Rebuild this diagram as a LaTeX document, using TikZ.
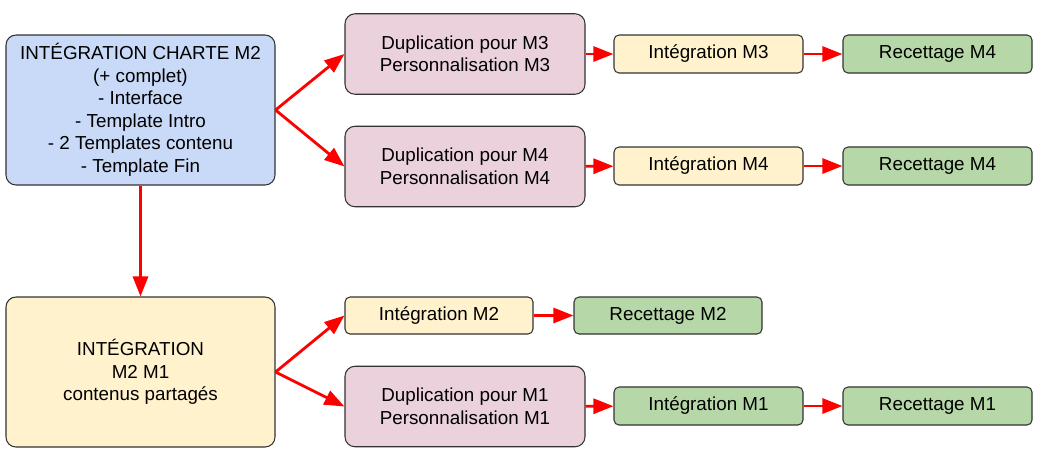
\documentclass[tikz,border=0pt]{standalone}
\usepackage{fontspec}
\setmainfont{Liberation Sans}
\usepackage{xcolor}
\usepackage{tikz}
\usetikzlibrary{arrows.meta}

\definecolor{chartecol}{HTML}{C9DAF8}
\definecolor{dupcol}{HTML}{EAD1DC}
\definecolor{integcol}{HTML}{FFF2CC}
\definecolor{recettecol}{HTML}{B6D7A8}

\tikzset{
  box/.style={draw=black!80, line width=0.6pt, rounded corners=0.1cm, align=center,
    inner sep=0pt, font=\fontsize{10.7}{12.8}\selectfont},
  bigbox/.style={box, rounded corners=0.2cm, minimum width=5.38cm, minimum height=3cm},
  dupbox/.style={box, fill=dupcol, rounded corners=0.2cm, minimum width=4.8cm, minimum height=1.61cm},
  smallbox/.style={box, minimum width=3.78cm, minimum height=0.76cm},
  flow/.style={-{Triangle[length=0.4cm,width=0.3cm]}, red, line width=1.6pt}
}

\begin{document}
\begin{tikzpicture}
    \useasboundingbox (0,0) rectangle (20.76,-9.02);
    % left column
    \node[bigbox, fill=chartecol] (charte) at (2.81,-2.20)
      {INTÉGRATION CHARTE M2\\(+ complet)\\- Interface\\- Template Intro\\- 2 Templates contenu\\- Template Fin};
    \node[bigbox, fill=integcol] (partage) at (2.81,-7.44)
      {INTÉGRATION\\M2 M1\\contenus partagés};
    % M3
    \node[dupbox] (dupM3) at (9.30,-1.08) {Duplication pour M3\\Personnalisation M3};
    \node[smallbox, fill=integcol] (intM3) at (14.17,-1.08) {Intégration M3};
    \node[smallbox, fill=recettecol] (recM3) at (18.75,-1.08) {Recettage M4};
    % M4
    \node[dupbox] (dupM4) at (9.30,-3.33) {Duplication pour M4\\Personnalisation M4};
    \node[smallbox, fill=integcol] (intM4) at (14.17,-3.32) {Intégration M4};
    \node[smallbox, fill=recettecol] (recM4) at (18.75,-3.32) {Recettage M4};
    % M2
    \node[smallbox, fill=integcol, minimum width=3.76cm, minimum height=0.74cm] (intM2) at (8.78,-6.31) {Intégration M2};
    \node[smallbox, fill=recettecol, minimum width=3.76cm, minimum height=0.74cm] (recM2) at (13.36,-6.31) {Recettage M2};
    % M1
    \node[dupbox] (dupM1) at (9.30,-8.13) {Duplication pour M1\\Personnalisation M1};
    \node[smallbox, fill=recettecol] (intM1) at (14.17,-8.12) {Intégration M1};
    \node[smallbox, fill=recettecol] (recM1) at (18.75,-8.12) {Recettage M1};

    \draw[flow] (charte.east) -- (dupM3.west);
    \draw[flow] (charte.east) -- (dupM4.west);
    \draw[flow] (charte.south) -- (partage.north);
    \draw[flow] (partage.east) -- (intM2.west);
    \draw[flow] (partage.east) -- (dupM1.west);
    \draw[flow] (dupM3) -- (intM3);
    \draw[flow] (intM3) -- (recM3);
    \draw[flow] (dupM4) -- (intM4);
    \draw[flow] (intM4) -- (recM4);
    \draw[flow] (intM2) -- (recM2);
    \draw[flow] (dupM1) -- (intM1);
    \draw[flow] (intM1) -- (recM1);
\end{tikzpicture}
\end{document}
